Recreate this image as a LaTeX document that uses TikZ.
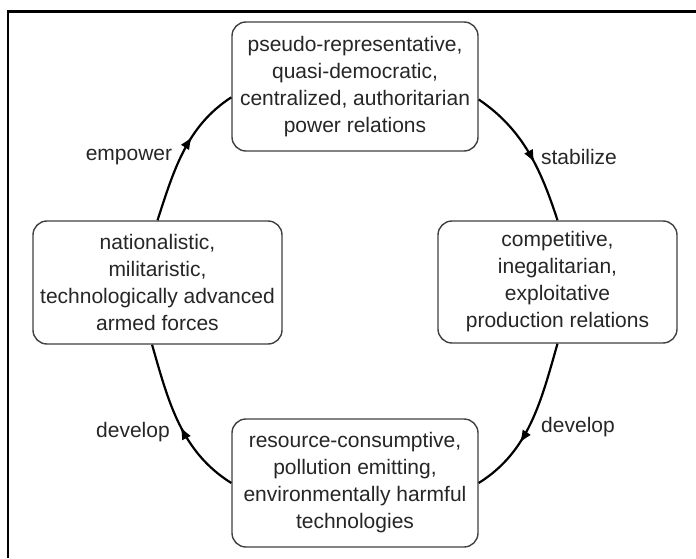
\documentclass[tikz,border=0pt]{standalone}
\usepackage{fontspec}
\setmainfont{Liberation Sans}
\usetikzlibrary{arrows.meta, decorations.markings}

\tikzset{
  cyclebox/.style={draw=black!75, line width=1.4pt, rounded corners=14pt, fill=white,
    align=center, inner sep=0pt, font=\fontsize{21}{27}\selectfont, text=black!85},
  cyclelabel/.style={font=\fontsize{21}{27}\selectfont, text=black!85},
  cyclearrow/.style={line width=2.2pt, postaction={decorate},
    decoration={markings, mark=at position #1 with {\arrow{Latex[length=13pt,width=10pt]}}}}
}

\begin{document}
\begin{tikzpicture}[x=1pt,y=1pt]
\useasboundingbox (0,0) rectangle (696,558);
\draw[line width=2.5pt] (8,0) -- (8,546.5) -- (696,546.5); %frame

\node[cyclebox, minimum width=246pt, minimum height=129pt] (power) at (355,471.5) {pseudo-representative,\\quasi-democratic,\\centralized, authoritarian\\power relations};
\node[cyclebox, minimum width=239pt, minimum height=122pt] (production) at (557.5,276) {competitive,\\inegalitarian,\\exploitative\\production relations};
\node[cyclebox, minimum width=246pt, minimum height=128pt] (technology) at (355,75) {resource-consumptive,\\pollution emitting,\\environmentally harmful\\technologies};
\node[cyclebox, minimum width=249pt, minimum height=123pt] (forces) at (157.5,275.5) {nationalistic,\\militaristic,\\technologically advanced\\armed forces};

\draw[cyclearrow=0.62] (forces.north) to[out=72, in=213, looseness=0.95] (power.185);
\draw[cyclearrow=0.58] (power.354) to[out=326, in=108, looseness=0.95] (production.north);
\draw[cyclearrow=0.65] (production.south) to[out=254, in=32, looseness=0.95] (technology.east);
\draw[cyclearrow=0.47] (technology.west) to[out=148, in=286, looseness=0.95] (forces.265);

\node[cyclelabel] (empower) at (129,401) {empower};
\node[cyclelabel] (stabilize) at (579,401) {stabilize};
\node[cyclelabel] (developright) at (578,131) {develop};
\node[cyclelabel] (developleft) at (133,126) {develop};
\end{tikzpicture}
\end{document}
